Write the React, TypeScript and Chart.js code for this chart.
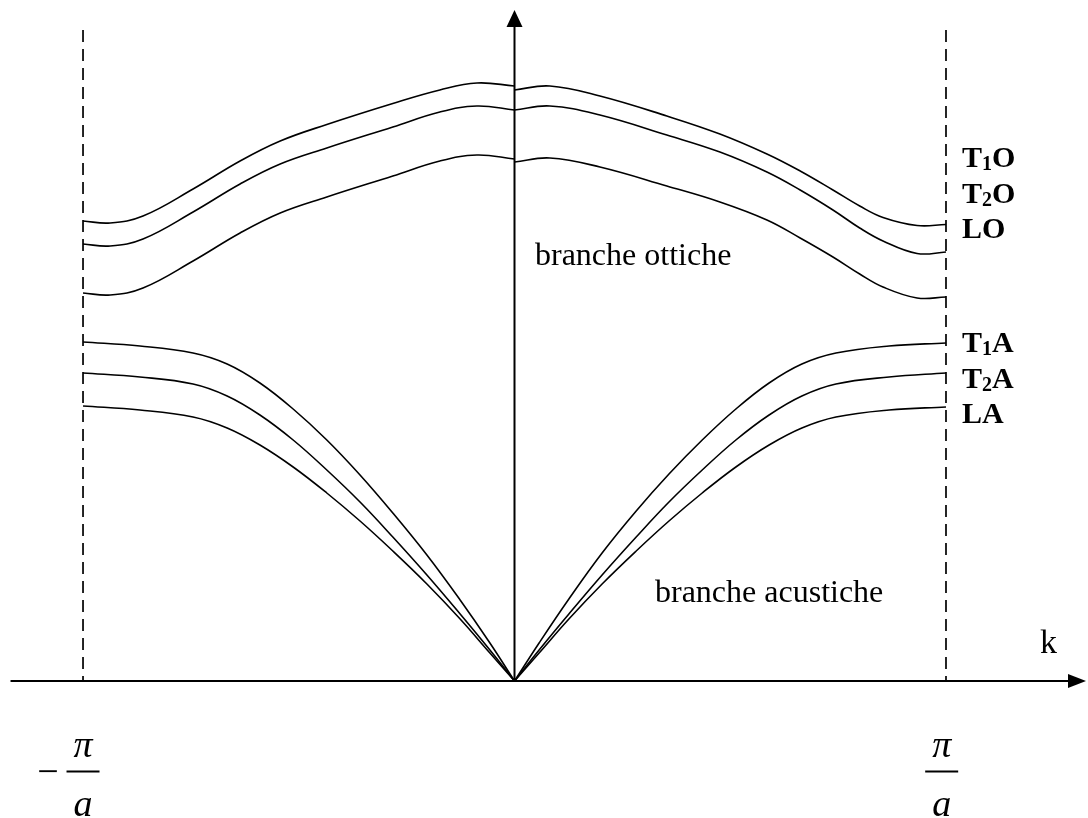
import { useEffect, useRef } from "react";
import { Chart, registerables } from "chart.js";

Chart.register(...registerables);

// Wave vector k in units of π/a, frequency ω in arbitrary units.
const kOpticLeft = [-1, -0.937, -0.861, -0.745, -0.636, -0.543, -0.435, -0.282, -0.173, -0.087, 0];
const t1oLeft = [46.0, 45.8, 46.5, 49.2, 52.0, 54.0, 55.65, 57.75, 59.1, 59.8, 59.5];
const t2oLeft = [43.7, 43.5, 44.2, 46.9, 49.7, 51.7, 53.3, 55.4, 56.9, 57.5, 57.1];
const loLeft = [38.8, 38.6, 39.3, 42.0, 44.8, 46.8, 48.4, 50.5, 52.0, 52.6, 52.2];

const kOpticRight = [0, 0.082, 0.198, 0.353, 0.476, 0.585, 0.662, 0.738, 0.8, 0.854, 0.933, 1];
const t1oRight = [59.1, 59.5, 58.5, 56.5, 54.7, 52.7, 51.0, 49.1, 47.5, 46.35, 45.55, 45.65];
const t2oRight = [57.1, 57.5, 56.6, 54.6, 52.9, 50.9, 49.1, 47.1, 45.3, 44.0, 42.75, 42.9];
const loRight = [51.9, 52.3, 51.4, 49.5, 47.9, 46.1, 44.3, 42.4, 40.7, 39.4, 38.3, 38.4];

const kAcousticLeft = [-1, -0.868, -0.745, -0.666, -0.59, -0.513, -0.435, -0.358, -0.282, -0.203, -0.126, -0.057, 0];
const t1aLeft = [33.9, 33.5, 32.8, 31.7, 29.8, 27.2, 24.1, 20.6, 16.8, 12.6, 8.1, 3.8, 0];
const t2aLeft = [30.8, 30.4, 29.7, 28.5, 26.6, 24.1, 21.1, 17.9, 14.4, 10.6, 6.7, 3.1, 0];
const laLeft = [27.5, 27.1, 26.4, 25.3, 23.6, 21.4, 18.8, 16.0, 13.0, 9.7, 6.2, 2.8, 0];

const kAcousticRight = [0, 0.057, 0.126, 0.203, 0.282, 0.358, 0.435, 0.513, 0.59, 0.666, 0.745, 0.868, 1];
const t1aRight = [0, 3.8, 8.2, 12.8, 17.0, 20.7, 24.1, 27.2, 29.8, 31.7, 32.8, 33.5, 33.8];
const t2aRight = [0, 3.1, 6.7, 10.6, 14.4, 17.9, 21.1, 24.1, 26.6, 28.5, 29.7, 30.4, 30.8];
const laRight = [0, 2.8, 6.2, 9.7, 13.0, 16.0, 18.8, 21.4, 23.6, 25.3, 26.4, 27.1, 27.4];

// Zone boundaries at k = ±π/a
const zoneEdges = [-1, 1];
const zoneEdgeTop = 65.1;

// Branch names, top to bottom, with subscript digit
const branchNames: [string, string, string][] = [
  ["T", "1", "O"],
  ["T", "2", "O"],
  ["L", "", "O"],
  ["T", "1", "A"],
  ["T", "2", "A"],
  ["L", "", "A"],
];
const branchNameOmega = [51.4, 47.8, 44.3, 32.9, 29.3, 25.8];
const branchNameK = 1.037;

// Axis extents
const kMin = -1.1924;
const kMax = 1.3291;
const wMin = -13.7;
const wMax = 68.1;
const axisKStart = -1.168;
const axisKEnd = 1.3245;
const axisWEnd = 67.1;

const toPoints = (ks: number[], ws: number[]) => ks.map((k, i) => ({ x: k, y: ws[i] }));

const curve = (ks: number[], ws: number[]) => ({
  data: toPoints(ks, ws),
  borderColor: "#000",
  borderWidth: 1.6,
  pointRadius: 0,
  tension: 0.4,
  fill: false,
});

const SERIF = '"Liberation Serif", "Times New Roman", serif';

const overlay = {
  id: "overlay",
  afterDatasetsDraw(chart: any) {
    const { ctx } = chart;
    const xs = chart.scales.x;
    const ys = chart.scales.y;
    const px = (k: number) => xs.getPixelForValue(k);
    const py = (w: number) => ys.getPixelForValue(w);
    ctx.save();
    ctx.strokeStyle = "#000";
    ctx.fillStyle = "#000";
    ctx.lineWidth = 2;

    const x0 = px(0);
    const y0 = py(0);

    // horizontal axis with arrow
    const xEnd = px(axisKEnd);
    ctx.beginPath();
    ctx.moveTo(px(axisKStart), y0);
    ctx.lineTo(xEnd - 10, y0);
    ctx.stroke();
    ctx.beginPath();
    ctx.moveTo(xEnd, y0);
    ctx.lineTo(xEnd - 18, y0 - 7);
    ctx.lineTo(xEnd - 18, y0 + 7);
    ctx.closePath();
    ctx.fill();

    // vertical axis with arrow
    const yTop = py(axisWEnd);
    ctx.beginPath();
    ctx.moveTo(x0, y0);
    ctx.lineTo(x0, yTop + 10);
    ctx.stroke();
    ctx.beginPath();
    ctx.moveTo(x0, yTop);
    ctx.lineTo(x0 - 8, yTop + 17);
    ctx.lineTo(x0 + 8, yTop + 17);
    ctx.closePath();
    ctx.fill();

    // region captions
    ctx.textBaseline = "alphabetic";
    ctx.textAlign = "left";
    ctx.font = `32px ${SERIF}`;
    ctx.fillText("branche ottiche", px(0.0475), py(41.6));
    ctx.fillText("branche acustiche", px(0.3256), py(7.9));
    ctx.font = `34px ${SERIF}`;
    ctx.fillText("k", px(1.218), py(2.8));

    // branch names with subscripts
    branchNames.forEach(([a, sub, b], i) => {
      let x = px(branchNameK);
      const base = py(branchNameOmega[i]);
      ctx.font = `bold 30px ${SERIF}`;
      ctx.fillText(a, x, base);
      x += ctx.measureText(a).width;
      if (sub) {
        ctx.font = `bold 20px ${SERIF}`;
        ctx.fillText(sub, x, base + 3);
        x += ctx.measureText(sub).width;
      }
      ctx.font = `bold 30px ${SERIF}`;
      ctx.fillText(b, x, base);
    });

    // ±π/a under the zone boundaries
    const fraction = (kc: number) => {
      const cx = px(kc);
      const barY = py(-9.05);
      ctx.lineWidth = 2;
      ctx.beginPath();
      ctx.moveTo(cx - 16.5, barY);
      ctx.lineTo(cx + 16.5, barY);
      ctx.stroke();
      ctx.font = `italic 38px ${SERIF}`;
      ctx.textAlign = "center";
      ctx.fillText("π", cx, py(-7.6));
      ctx.fillText("a", cx, py(-13.5));
      ctx.textAlign = "left";
    };
    fraction(-1);
    fraction(0.99);

    ctx.font = `38px ${SERIF}`;
    ctx.textAlign = "center";
    const m = ctx.measureText("−");
    const minusY = py(-9.0) + (m.actualBoundingBoxAscent - m.actualBoundingBoxDescent) / 2;
    ctx.fillText("−", px(-1.081), minusY);

    ctx.restore();
  },
};

export default function App() {
  const canvasRef = useRef<HTMLCanvasElement | null>(null);

  useEffect(() => {
    if (!canvasRef.current) return;
    const datasets: any[] = [
      curve(kOpticLeft, t1oLeft),
      curve(kOpticLeft, t2oLeft),
      curve(kOpticLeft, loLeft),
      curve(kOpticRight, t1oRight),
      curve(kOpticRight, t2oRight),
      curve(kOpticRight, loRight),
      curve(kAcousticLeft, t1aLeft),
      curve(kAcousticLeft, t2aLeft),
      curve(kAcousticLeft, laLeft),
      curve(kAcousticRight, t1aRight),
      curve(kAcousticRight, t2aRight),
      curve(kAcousticRight, laRight),
      ...zoneEdges.map((k) => ({
        data: [
          { x: k, y: zoneEdgeTop },
          { x: k, y: 0 },
        ],
        borderColor: "#000",
        borderWidth: 1.7,
        borderDash: [12, 7],
        pointRadius: 0,
        fill: false,
      })),
    ];

    const chart = new Chart(canvasRef.current, {
      type: "line",
      data: { datasets },
      options: {
        animation: false,
        responsive: false,
        devicePixelRatio: 1,
        layout: { padding: 0 },
        plugins: { legend: { display: false }, tooltip: { enabled: false } },
        events: [],
        scales: {
          x: { type: "linear", min: kMin, max: kMax, display: false },
          y: { type: "linear", min: wMin, max: wMax, display: false },
        },
      },
      plugins: [overlay],
    });
    return () => chart.destroy();
  }, []);

  return (
    <div style={{ position: "absolute", left: 0, top: 0, width: 1088, height: 818, background: "#fff" }}>
      <canvas ref={canvasRef} width={1088} height={818} />
    </div>
  );
}
